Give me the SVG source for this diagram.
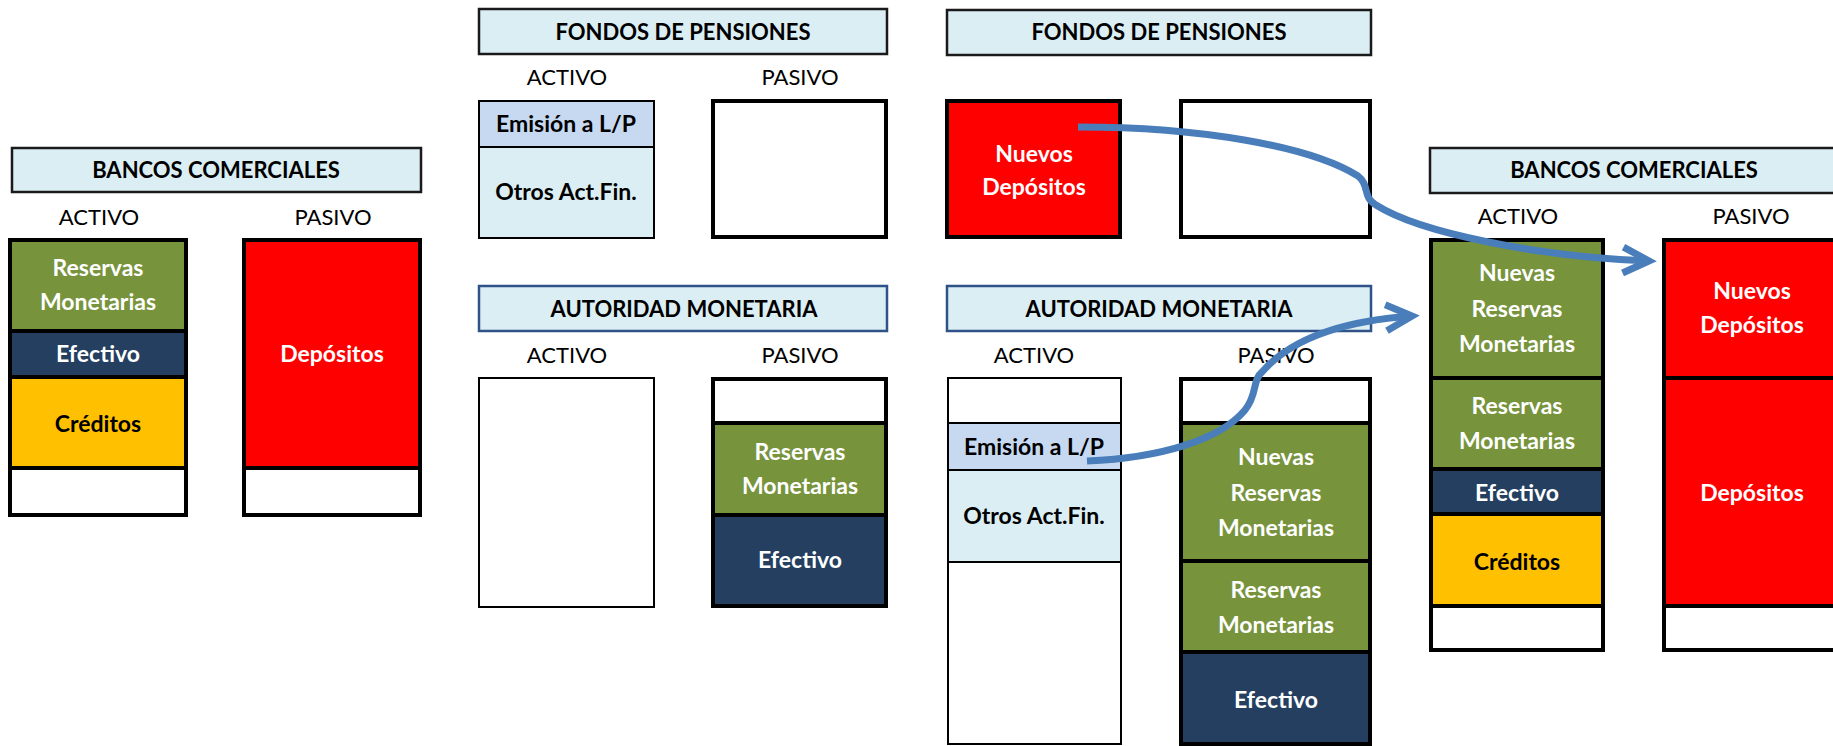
<svg xmlns="http://www.w3.org/2000/svg" width="1833" height="746" viewBox="0 0 1833 746">
<defs>
<style>
.hdr{font-family:Lato,"Liberation Sans",sans-serif;font-weight:bold;font-size:22px;text-anchor:middle;fill:#000}
.lbl{font-family:Lato,"Liberation Sans",sans-serif;font-size:22px;text-anchor:middle;fill:#000}
.w{font-family:Lato,"Liberation Sans",sans-serif;font-weight:bold;font-size:23px;text-anchor:middle;fill:#fff}
.k{font-family:Lato,"Liberation Sans",sans-serif;font-weight:bold;font-size:23px;text-anchor:middle;fill:#000}
.hbox{fill:#DBEEF4;stroke:#1a1a1a;stroke-width:2.5}
.hbox2{fill:#DBEEF4;stroke:#2F5388;stroke-width:2.5}
.thick{fill:none;stroke:#000;stroke-width:4}
.thin{fill:none;stroke:#000;stroke-width:2}
.green{fill:#77933C}
.navy{fill:#243F60}
.yellow{fill:#FFC000}
.red{fill:#FF0000}
.white{fill:#FFFFFF}
.emi{fill:#C6D9F1}
.otros{fill:#DBEEF4}
.conn{fill:none;stroke:#4A7EBB;stroke-width:7}
</style>
<marker id="arr" markerUnits="userSpaceOnUse" viewBox="-40 -20 50 40" markerWidth="50" markerHeight="40" refX="0" refY="0" orient="auto" overflow="visible">
<path d="M-26,-13 L0,0 L-26,13" fill="none" stroke="#4A7EBB" stroke-width="7" stroke-linejoin="miter" stroke-miterlimit="10"/>
</marker>
</defs>
<rect width="1833" height="746" fill="#fff"/>

<g id="bancos-1">
<rect class="hbox" x="12" y="148" width="409" height="44"/>
<text class="hdr" x="216" y="178">BANCOS COMERCIALES</text>
<text class="lbl" x="99" y="225">ACTIVO</text>
<text class="lbl" x="333" y="225">PASIVO</text>
<g id="bancos-1-activo">
<rect class="green" x="10" y="240" width="176" height="91"/>
<rect class="navy" x="10" y="331" width="176" height="46"/>
<rect class="yellow" x="10" y="377" width="176" height="91"/>
<rect class="white" x="10" y="468" width="176" height="47"/>
<path class="thick" d="M10,331H186M10,377H186M10,468H186"/>
<rect class="thick" x="10" y="240" width="176" height="275"/>
<text class="w" x="98" y="276">Reservas</text>
<text class="w" x="98" y="310">Monetarias</text>
<text class="w" x="98" y="362">Efectivo</text>
<text class="k" x="98" y="432">Créditos</text>
</g>
<g id="bancos-1-pasivo">
<rect class="red" x="244" y="240" width="176" height="228"/>
<rect class="white" x="244" y="468" width="176" height="47"/>
<path class="thick" d="M244,468H420"/>
<rect class="thick" x="244" y="240" width="176" height="275"/>
<text class="w" x="332" y="362">Depósitos</text>
</g>
</g>

<g id="fondos-1">
<rect class="hbox" x="479" y="9" width="408" height="45"/>
<text class="hdr" x="683" y="40">FONDOS DE PENSIONES</text>
<text class="lbl" x="567" y="85">ACTIVO</text>
<text class="lbl" x="800" y="85">PASIVO</text>
<g id="fondos-1-activo">
<rect class="emi" x="479" y="101" width="175" height="46"/>
<rect class="otros" x="479" y="147" width="175" height="91"/>
<path class="thin" d="M479,147H654"/>
<rect class="thin" x="479" y="101" width="175" height="137"/>
<text class="k" x="566" y="132">Emisión a L/P</text>
<text class="k" x="566" y="200">Otros Act.Fin.</text>
</g>
<g id="fondos-1-pasivo">
<rect class="white" x="713" y="101" width="173" height="136"/>
<rect class="thick" x="713" y="101" width="173" height="136"/>
</g>
</g>

<g id="autoridad-1">
<rect class="hbox2" x="479" y="286" width="408" height="45"/>
<text class="hdr" x="684" y="317">AUTORIDAD MONETARIA</text>
<text class="lbl" x="567" y="363">ACTIVO</text>
<text class="lbl" x="800" y="363">PASIVO</text>
<g id="autoridad-1-activo">
<rect class="thin" x="479" y="378" width="175" height="229"/>
</g>
<g id="autoridad-1-pasivo">
<rect class="white" x="713" y="379" width="173" height="44"/>
<rect class="green" x="713" y="423" width="173" height="92"/>
<rect class="navy" x="713" y="515" width="173" height="91"/>
<path class="thick" d="M713,423H886M713,515H886"/>
<rect class="thick" x="713" y="379" width="173" height="227"/>
<text class="w" x="800" y="460">Reservas</text>
<text class="w" x="800" y="494">Monetarias</text>
<text class="w" x="800" y="568">Efectivo</text>
</g>
</g>

<g id="fondos-2">
<rect class="hbox" x="947" y="10" width="424" height="45"/>
<text class="hdr" x="1159" y="40">FONDOS DE PENSIONES</text>
<g id="fondos-2-activo">
<rect class="red" x="947" y="101" width="173" height="136"/>
<rect class="thick" x="947" y="101" width="173" height="136"/>
<text class="w" x="1034" y="162">Nuevos</text>
<text class="w" x="1034" y="195">Depósitos</text>
</g>
<g id="fondos-2-pasivo">
<rect class="white" x="1181" y="101" width="189" height="136"/>
<rect class="thick" x="1181" y="101" width="189" height="136"/>
</g>
</g>

<g id="autoridad-2">
<rect class="hbox2" x="947" y="286" width="424" height="45"/>
<text class="hdr" x="1159" y="317">AUTORIDAD MONETARIA</text>
<text class="lbl" x="1034" y="363">ACTIVO</text>
<text class="lbl" x="1276" y="363">PASIVO</text>
<g id="autoridad-2-activo">
<rect class="emi" x="948" y="423" width="173" height="47"/>
<rect class="otros" x="948" y="470" width="173" height="92"/>
<path class="thin" d="M948,423H1121M948,470H1121M948,562H1121"/>
<rect class="thin" x="948" y="378" width="173" height="366"/>
<text class="k" x="1034" y="455">Emisión a L/P</text>
<text class="k" x="1034" y="524">Otros Act.Fin.</text>
</g>
<g id="autoridad-2-pasivo">
<rect class="white" x="1181" y="379" width="189" height="44"/>
<rect class="green" x="1181" y="423" width="189" height="138"/>
<rect class="green" x="1181" y="561" width="189" height="91"/>
<rect class="navy" x="1181" y="652" width="189" height="92"/>
<path class="thick" d="M1181,423H1370M1181,561H1370M1181,652H1370"/>
<rect class="thick" x="1181" y="379" width="189" height="365"/>
<text class="w" x="1276" y="465">Nuevas</text>
<text class="w" x="1276" y="501">Reservas</text>
<text class="w" x="1276" y="536">Monetarias</text>
<text class="w" x="1276" y="598">Reservas</text>
<text class="w" x="1276" y="633">Monetarias</text>
<text class="w" x="1276" y="708">Efectivo</text>
</g>
</g>

<g id="bancos-2">
<rect class="hbox" x="1430" y="148" width="410" height="45"/>
<text class="hdr" x="1634" y="178">BANCOS COMERCIALES</text>
<text class="lbl" x="1518" y="224">ACTIVO</text>
<text class="lbl" x="1751" y="224">PASIVO</text>
<g id="bancos-2-activo">
<rect class="green" x="1431" y="240" width="172" height="138"/>
<rect class="green" x="1431" y="378" width="172" height="91"/>
<rect class="navy" x="1431" y="469" width="172" height="45"/>
<rect class="yellow" x="1431" y="514" width="172" height="92"/>
<rect class="white" x="1431" y="606" width="172" height="44"/>
<path class="thick" d="M1431,378H1603M1431,469H1603M1431,514H1603M1431,606H1603"/>
<rect class="thick" x="1431" y="240" width="172" height="410"/>
<text class="w" x="1517" y="281">Nuevas</text>
<text class="w" x="1517" y="317">Reservas</text>
<text class="w" x="1517" y="352">Monetarias</text>
<text class="w" x="1517" y="414">Reservas</text>
<text class="w" x="1517" y="449">Monetarias</text>
<text class="w" x="1517" y="501">Efectivo</text>
<text class="k" x="1517" y="570">Créditos</text>
</g>
<g id="bancos-2-pasivo">
<rect class="red" x="1664" y="240" width="180" height="366"/>
<rect class="white" x="1664" y="606" width="180" height="44"/>
<path class="thick" d="M1664,378H1844M1664,606H1844"/>
<rect class="thick" x="1664" y="240" width="180" height="410"/>
<text class="w" x="1752" y="299">Nuevos</text>
<text class="w" x="1752" y="333">Depósitos</text>
<text class="w" x="1752" y="501">Depósitos</text>
</g>
</g>

<g id="connectors">
<path class="conn" marker-end="url(#arr)" d="M1078,127 C1200,127 1310,146 1358,176 C1370,185 1362,197 1376,205 C1420,233 1540,257 1649,261"/>
<path class="conn" marker-end="url(#arr)" d="M1087,461 C1160,458 1220,440 1245,410 C1258,394 1252,380 1262,372 C1290,340 1340,321 1412,316"/>
</g>
</svg>
